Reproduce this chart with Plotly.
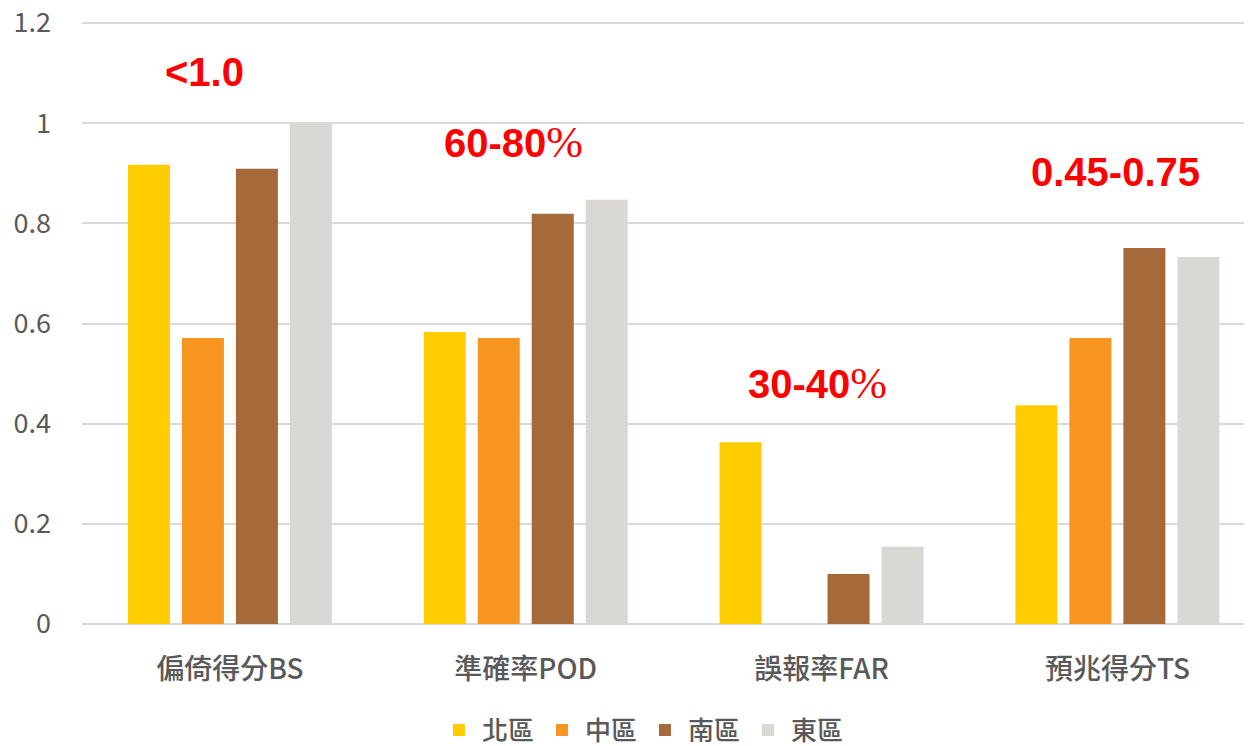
import plotly.graph_objects as go

categories = ["偏倚得分BS", "準確率POD", "誤報率FAR", "預兆得分TS"]
series_names = ["北區", "中區", "南區", "東區"]
north = [0.917, 0.583, 0.363, 0.437]
central = [0.571, 0.571, 0.0, 0.571]
south = [0.909, 0.819, 0.100, 0.751]
east = [1.000, 0.847, 0.154, 0.733]
colors = ["#FFCC00", "#F79521", "#A5693A", "#D9D8D4"]
ann_main = ["<1.0", "60-80", "30-40", "0.45-0.75"]
ann_pct = ["", "%", "%", ""]
ann_x = [-0.085, 0.96, 1.985, 2.995]
ann_y = [1.102, 0.962, 0.481, 0.902]
y_ticks = [0, 0.2, 0.4, 0.6, 0.8, 1.0, 1.2]
y_tick_labels = ["0", "0.2", "0.4", "0.6", "0.8", "1", "1.2"]

font_family = "Noto Sans CJK TC, Noto Sans, sans-serif"

fig = go.Figure()
for name, vals, col in zip(series_names, [north, central, south, east], colors):
    fig.add_trace(go.Bar(name=name, x=categories, y=vals, marker_color=col,
                         marker_line_width=0))

for t, p, x, y in zip(ann_main, ann_pct, ann_x, ann_y):
    txt = t
    if p:
        txt += "<span style='font-family:Liberation Serif;font-weight:normal;font-size:44px'>" + p + "</span>"
    fig.add_annotation(text=txt, x=x, y=y, xref="x", yref="y", showarrow=False,
                       font=dict(family="Liberation Sans, Arial, sans-serif", size=40,
                                 color="#FF0000", weight="bold"))

fig.update_layout(
    width=1244, height=738,
    margin=dict(l=74, r=0, t=10, b=122, autoexpand=False),
    paper_bgcolor="white", plot_bgcolor="white",
    barmode="group", bargap=0.27, bargroupgap=0.222,
    font=dict(family=font_family, color="#595959", size=26),
    legend=dict(orientation="h", x=0.479, xanchor="center", y=-0.175, yanchor="middle",
                font=dict(size=26, color="#595959", weight=500), itemwidth=36,
                traceorder="normal"),
    showlegend=True,
)
fig.update_xaxes(type="category", range=[-0.5, 3.455], showline=False, ticks="",
                 tickfont=dict(size=28, color="#595959", weight=500), showgrid=False,
                 ticklabelstandoff=26)
fig.update_yaxes(range=[0, 1.21], tickvals=y_ticks, ticktext=y_tick_labels,
                 showgrid=True, gridcolor="#D9D9D9", gridwidth=1.5,
                 zeroline=True, zerolinecolor="#D9D9D9", zerolinewidth=1.5,
                 ticklabeloverflow="allow",
                 tickfont=dict(size=27, color="#595959"), ticks="", ticklabelstandoff=30)

fig.write_html("out.html")
